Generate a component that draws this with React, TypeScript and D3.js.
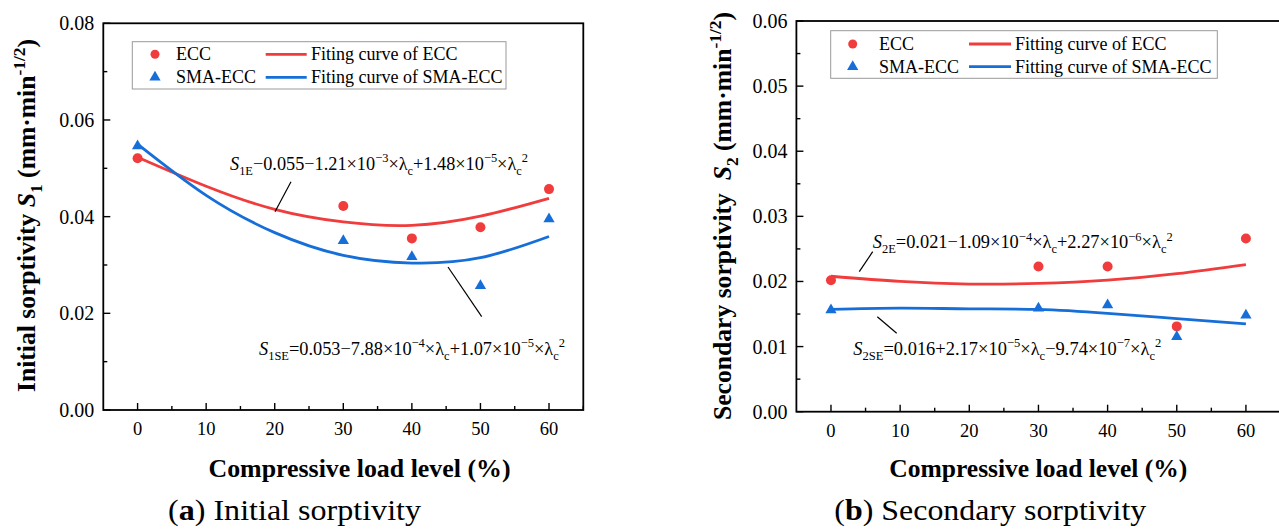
import React from "react";
import * as d3 from "d3";

// ---------- data ----------
const loadLevels = [0, 30, 40, 50, 60];
const fitLevels = [0, 10, 20, 30, 40, 50, 60];

const s1ECC = [0.0521, 0.0422, 0.0355, 0.0378, 0.0457];
const s1SMA = [0.0546, 0.035, 0.0317, 0.0257, 0.0395];
const s1FitECC = [0.0523, 0.0463, 0.0415, 0.0389, 0.0382, 0.0401, 0.0438];
const s1FitSMA = [0.055, 0.0444, 0.0367, 0.032, 0.0304, 0.0315, 0.0359];

const s2ECC = [0.0202, 0.0223, 0.0223, 0.0131, 0.0266];
const s2SMA = [0.0156, 0.0159, 0.0164, 0.0115, 0.0148];
const s2FitECC = [0.0208, 0.02, 0.0196, 0.0197, 0.0202, 0.0212, 0.0226];
const s2FitSMA = [0.0157, 0.0159, 0.0158, 0.0157, 0.0151, 0.0143, 0.0135];

const xTicks = [0, 10, 20, 30, 40, 50, 60];
const s1YTicks = [0, 0.02, 0.04, 0.06, 0.08];
const s2YTicks = [0, 0.01, 0.02, 0.03, 0.04, 0.05, 0.06];

const legendLeft = ["ECC", "SMA-ECC", "Fiting curve of ECC", "Fiting curve of SMA-ECC"];
const legendRight = ["ECC", "SMA-ECC", "Fitting curve of ECC", "Fitting curve of SMA-ECC"];

// rich text segments: [text, style]  style: n normal, i italic, b sub, p sup, bi bold-italic
type Seg = [string, string];
const eqS1E: Seg[] = [["S", "i"], ["1E", "b"], ["\u22120.055\u22121.21\u00d710", "n"], ["\u22123", "p"], ["\u00d7\u03bb", "n"], ["c", "b"], ["+1.48\u00d710", "n"], ["\u22125", "p"], ["\u00d7\u03bb", "n"], ["c", "b"], ["2", "p"]];
const eqS1SE: Seg[] = [["S", "i"], ["1SE", "b"], ["=0.053\u22127.88\u00d710", "n"], ["\u22124", "p"], ["\u00d7\u03bb", "n"], ["c", "b"], ["+1.07\u00d710", "n"], ["\u22125", "p"], ["\u00d7\u03bb", "n"], ["c", "b"], ["2", "p"]];
const eqS2E: Seg[] = [["S", "i"], ["2E", "b"], ["=0.021\u22121.09\u00d710", "n"], ["\u22124", "p"], ["\u00d7\u03bb", "n"], ["c", "b"], ["+2.27\u00d710", "n"], ["\u22126", "p"], ["\u00d7\u03bb", "n"], ["c", "b"], ["2", "p"]];
const eqS2SE: Seg[] = [["S", "i"], ["2SE", "b"], ["=0.016+2.17\u00d710", "n"], ["\u22125", "p"], ["\u00d7\u03bb", "n"], ["c", "b"], ["\u22129.74\u00d710", "n"], ["\u22127", "p"], ["\u00d7\u03bb", "n"], ["c", "b"], ["2", "p"]];

const yTitle1: Seg[] = [["Initial sorptivity ", "n"], ["S", "bi"], ["1", "b"], [" (mm\u00b7min", "n"], ["-1/2", "p"], [")", "n"]];
const yTitle2: Seg[] = [["Secondary sorptivity \u00a0", "n"], ["S", "bi"], ["2", "b"], [" (mm\u00b7min", "n"], ["-1/2", "p"], [")", "n"]];

const RED = "#f03c3c";
const BLUE = "#166ed8";
const FONT = "'Liberation Serif', 'Times New Roman', serif";

function Rich({ x, y, segs, fs, anchor = "start", weight = "normal", transform, textLength }: any) {
  let shift = 0;
  return (
    <text x={x} y={y} fontSize={fs} fontFamily={FONT} fontWeight={weight} textAnchor={anchor} transform={transform} textLength={textLength} lengthAdjust={textLength ? "spacingAndGlyphs" : undefined}>
      {segs.map((s: Seg, i: number) => {
        const [t, st] = s;
        let target = 0;
        let size = fs;
        if (st === "b") { target = 0.28 * fs; size = fs * 0.68; }
        if (st === "p") { target = -0.42 * fs; size = fs * 0.68; }
        const dy = target - shift;
        shift = target;
        return (
          <tspan key={i} dy={dy} fontSize={size} fontStyle={st === "i" || st === "bi" ? "italic" : "normal"} fontWeight={st === "bi" ? "bold" : undefined}>
            {t}
          </tspan>
        );
      })}
    </text>
  );
}

function Panel(p: any) {
  const x = d3.scaleLinear().domain([-5, 65]).range([p.left, p.right]);
  const y = d3.scaleLinear().domain([0, p.yMax]).range([p.bottom, p.top]);
  const line = d3.line<number>().x((_, i) => x(fitLevels[i])).y((v) => y(v)).curve(d3.curveNatural);
  const tri = d3.symbol().type(d3.symbolTriangle).size(55)();
  const xMinor = d3.range(5, 66, 10);
  const yMinor = p.yTicks.slice(0, -1).map((t: number, i: number) => (t + p.yTicks[i + 1]) / 2);
  const lg = p.legend;
  return (
    <g>
      {/* fit curves */}
      <path d={line(p.fitECC) || ""} fill="none" stroke={RED} strokeWidth={2.8} />
      <path d={line(p.fitSMA) || ""} fill="none" stroke={BLUE} strokeWidth={2.8} />
      {/* points */}
      {p.ecc.map((v: number, i: number) => (
        <circle key={"c" + i} cx={x(loadLevels[i])} cy={y(v)} r={5} fill={RED} />
      ))}
      {p.sma.map((v: number, i: number) => (
        <path key={"t" + i} d={tri} transform={`translate(${x(loadLevels[i])},${y(v)})`} fill={BLUE} />
      ))}
      {/* frame */}
      <rect x={p.left} y={p.top} width={p.right - p.left} height={p.bottom - p.top} fill="none" stroke="#000" strokeWidth={1.8} />
      {/* x ticks */}
      {xTicks.map((t) => (
        <g key={"xt" + t}>
          <line x1={x(t)} x2={x(t)} y1={p.bottom} y2={p.bottom - 7} stroke="#000" strokeWidth={1.4} />
          <text x={x(t)} y={p.bottom + 25} fontSize={18.5} fontFamily={FONT} textAnchor="middle">{t}</text>
        </g>
      ))}
      {xMinor.map((t) => (
        <line key={"xm" + t} x1={x(t)} x2={x(t)} y1={p.bottom} y2={p.bottom - 4} stroke="#000" strokeWidth={1.4} />
      ))}
      {/* y ticks */}
      {p.yTicks.map((t: number) => (
        <g key={"yt" + t}>
          <line x1={p.left} x2={p.left + 7} y1={y(t)} y2={y(t)} stroke="#000" strokeWidth={1.4} />
          <text x={p.left - 9} y={y(t) + 7} fontSize={20} fontFamily={FONT} textAnchor="end">{t.toFixed(2)}</text>
        </g>
      ))}
      {yMinor.map((t: number) => (
        <line key={"ym" + t} x1={p.left} x2={p.left + 4} y1={y(t)} y2={y(t)} stroke="#000" strokeWidth={1.4} />
      ))}
      {/* legend */}
      <rect x={lg.x0} y={lg.y0} width={lg.x1 - lg.x0} height={lg.y1 - lg.y0} fill="#fff" stroke="#999" strokeWidth={1} />
      <circle cx={lg.mx} cy={lg.r1} r={4.5} fill={RED} />
      <path d={tri} transform={`translate(${lg.mx},${lg.r2})`} fill={BLUE} />
      <text x={lg.tx} y={lg.r1 + 6} fontSize={18} fontFamily={FONT}>{p.legendText[0]}</text>
      <text x={lg.tx} y={lg.r2 + 6} fontSize={18} fontFamily={FONT}>{p.legendText[1]}</text>
      <line x1={lg.lx0} x2={lg.lx1} y1={lg.r1} y2={lg.r1} stroke={RED} strokeWidth={2.8} />
      <line x1={lg.lx0} x2={lg.lx1} y1={lg.r2} y2={lg.r2} stroke={BLUE} strokeWidth={2.8} />
      <text x={lg.t2x} y={lg.r1 + 6} fontSize={18} fontFamily={FONT}>{p.legendText[2]}</text>
      <text x={lg.t2x} y={lg.r2 + 6} fontSize={18} fontFamily={FONT}>{p.legendText[3]}</text>
      {/* equations */}
      {p.eqs.map((e: any, i: number) => (
        <g key={"eq" + i}>
          <Rich x={e.x} y={e.y} segs={e.segs} fs={18.5} textLength={e.w} />
          <line x1={e.l[0]} y1={e.l[1]} x2={e.l[2]} y2={e.l[3]} stroke="#000" strokeWidth={1.2} />
        </g>
      ))}
      {/* axis titles */}
      <text x={p.xTitle[0]} y={p.xTitle[1]} fontSize={25} fontWeight="bold" fontFamily={FONT} textAnchor="middle" textLength={p.xTitle[2]} lengthAdjust="spacingAndGlyphs">
        Compressive load level (%)
      </text>
      <Rich x={0} y={0} segs={p.yTitle} fs={25} weight="bold" anchor="middle" transform={`translate(${p.yTitlePos[0]},${p.yTitlePos[1]}) rotate(-90)`} textLength={p.yTitlePos[2]} />
      {/* caption */}
      <text x={p.cap[0]} y={p.cap[1]} fontSize={29} fontFamily={FONT} textAnchor="middle" textLength={p.cap[2]} lengthAdjust="spacingAndGlyphs">
        (<tspan fontWeight="bold">{p.capLetter}</tspan>) {p.capText}
      </text>
    </g>
  );
}

export default function App() {
  return (
    <div style={{ position: "absolute", left: 0, top: 0 }}>
      <svg width={1279} height={531} style={{ display: "block", background: "#fff" }}>
        <Panel
          left={103.3} right={583.3} top={23.3} bottom={410} yMax={0.08} yTicks={s1YTicks}
          ecc={s1ECC} sma={s1SMA} fitECC={s1FitECC} fitSMA={s1FitSMA}
          legend={{ x0: 132.3, y0: 41.7, x1: 506, y1: 89, r1: 54.3, r2: 77.3, mx: 155, tx: 176, lx0: 265.7, lx1: 306.7, t2x: 311 }}
          legendText={legendLeft}
          eqs={[
            { x: 230, y: 170, segs: eqS1E, w: 298, l: [291, 181.7, 275, 211.7] },
            { x: 259, y: 355, segs: eqS1SE, w: 306, l: [448, 267, 481.7, 316.7] },
          ]}
          xTitle={[359.5, 477, 302]}
          yTitle={yTitle1} yTitlePos={[35, 215.5, 353]}
          cap={[294.5, 520, 253]} capLetter="a" capText="Initial sorptivity"
        />
        <Panel
          left={796.4} right={1280.5} top={21} bottom={411.7} yMax={0.06} yTicks={s2YTicks}
          ecc={s2ECC} sma={s2SMA} fitECC={s2FitECC} fitSMA={s2FitSMA}
          legend={{ x0: 830.7, y0: 30.7, x1: 1217.3, y1: 78.3, r1: 44, r2: 66.7, mx: 852.7, tx: 879, lx0: 969, lx1: 1011, t2x: 1015 }}
          legendText={legendRight}
          eqs={[
            { x: 872.7, y: 248.3, segs: eqS2E, w: 300, l: [872.7, 251.7, 859.3, 271.7] },
            { x: 853.3, y: 355, segs: eqS2SE, w: 308, l: [877.3, 316.7, 896.7, 333.3] },
          ]}
          xTitle={[1038.3, 477, 298]}
          yTitle={yTitle2} yTitlePos={[731, 216, 408]}
          cap={[990.3, 520, 312]} capLetter="b" capText="Secondary sorptivity"
        />
      </svg>
    </div>
  );
}
